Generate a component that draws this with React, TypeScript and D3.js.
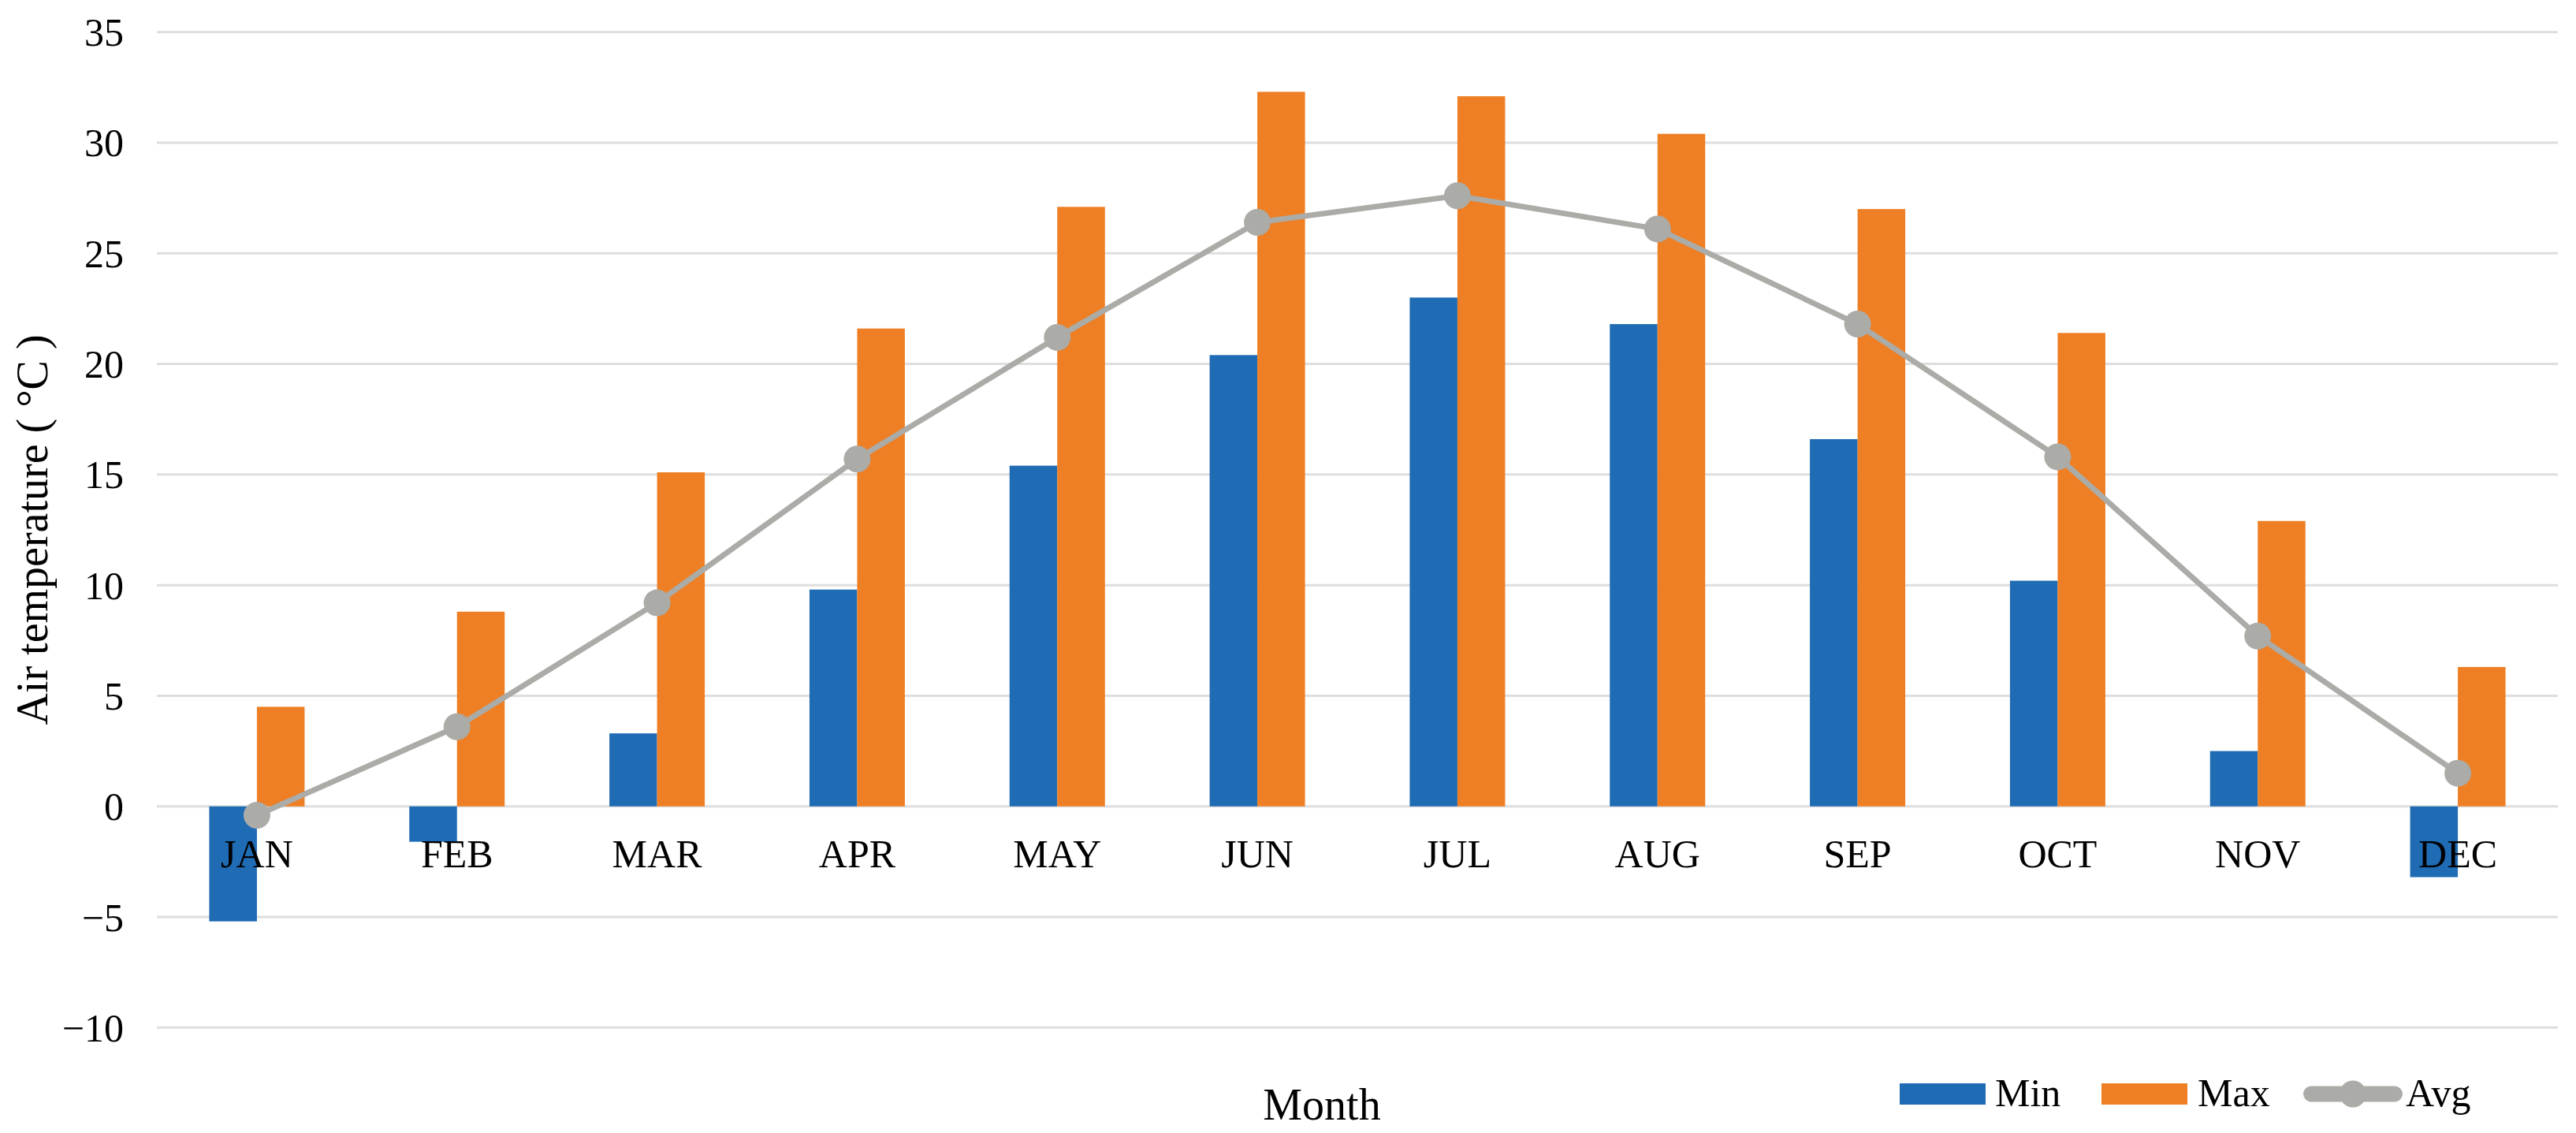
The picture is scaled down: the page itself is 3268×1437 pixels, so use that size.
import React from "react";
import * as d3 from "d3";

const months = ["JAN", "FEB", "MAR", "APR", "MAY", "JUN", "JUL", "AUG", "SEP", "OCT", "NOV", "DEC"];
const minTemp = [-5.2, -1.6, 3.3, 9.8, 15.4, 20.4, 23.0, 21.8, 16.6, 10.2, 2.5, -3.2];
const maxTemp = [4.5, 8.8, 15.1, 21.6, 27.1, 32.3, 32.1, 30.4, 27.0, 21.4, 12.9, 6.3];
const avgTemp = [-0.4, 3.6, 9.2, 15.7, 21.2, 26.4, 27.6, 26.1, 21.8, 15.8, 7.7, 1.5];
const yTicks = [-10, -5, 0, 5, 10, 15, 20, 25, 30, 35];
const seriesNames = ["Min", "Max", "Avg"];

const W = 3268;
const H = 1437;
const left = 199;
const right = 3245;
const top = 40.7;
const bottom = 1303.3;

const BLUE = "#1F6BB4";
const ORANGE = "#EE7F24";
const GRAY = "#ABABA7";
const GRID = "#DEDEDE";
const FONT = "'Liberation Serif', 'Times New Roman', serif";

export default function App() {
  const x = d3.scaleBand<string>().domain(months).range([left, right]).padding(0);
  const y = d3.scaleLinear().domain([-10, 35]).range([bottom, top]);
  const groupW = 121;
  const inner = d3.scaleBand<string>().domain(["Min", "Max"]).range([-groupW / 2, groupW / 2]).padding(0);
  const cx = (m: string) => (x(m) as number) + x.bandwidth() / 2;

  const line = d3
    .line<number>()
    .x((_, i) => cx(months[i]))
    .y((d) => y(d));

  const fmt = (v: number) => (v < 0 ? "\u2212" + Math.abs(v) : String(v));

  const barRect = (m: string, v: number, s: string, color: string) => {
    const y0 = y(0);
    const yv = y(v);
    return (
      <rect
        key={m + s}
        x={cx(m) + (inner(s) as number)}
        y={Math.min(y0, yv)}
        width={inner.bandwidth()}
        height={Math.abs(yv - y0)}
        fill={color}
      />
    );
  };

  return (
    <svg
      width={W}
      height={H}
      viewBox={`0 0 ${W} ${H}`}
      style={{ position: "absolute", left: 0, top: 0, background: "#fff" }}
      fontFamily={FONT}
    >
      <rect x={0} y={0} width={W} height={H} fill="#fff" />
      {/* gridlines */}
      {yTicks.map((t) => (
        <line key={"g" + t} x1={left} x2={right} y1={y(t)} y2={y(t)} stroke={GRID} strokeWidth={3} />
      ))}
      {/* y tick labels */}
      {yTicks.map((t) => (
        <text key={"t" + t} x={157} y={y(t)} dy="0.35em" textAnchor="end" fontSize={50} fill="#000">
          {fmt(t)}
        </text>
      ))}
      {/* bars */}
      {months.map((m, i) => barRect(m, minTemp[i], "Min", BLUE))}
      {months.map((m, i) => barRect(m, maxTemp[i], "Max", ORANGE))}
      {/* avg line */}
      <path d={line(avgTemp) as string} fill="none" stroke={GRAY} strokeWidth={7} strokeLinejoin="round" />
      {avgTemp.map((v, i) => (
        <circle key={"c" + i} cx={cx(months[i])} cy={y(v)} r={17} fill={GRAY} />
      ))}
      {/* month labels */}
      {months.map((m) => (
        <text key={"m" + m} x={cx(m)} y={1100} textAnchor="middle" fontSize={50} fill="#000">
          {m}
        </text>
      ))}
      {/* axis titles */}
      <text x={1677} y={1420} textAnchor="middle" fontSize={56} fill="#000">
        Month
      </text>
      <text
        transform={`translate(60, ${(top + bottom) / 2}) rotate(-90)`}
        textAnchor="middle"
        fontSize={56}
        fill="#000"
      >
        Air temperature ( °C )
      </text>
      {/* legend */}
      <g>
        <rect x={2410} y={1374} width={109} height={27} fill={BLUE} />
        <text x={2531} y={1403} fontSize={50} fill="#000">
          {seriesNames[0]}
        </text>
        <rect x={2666} y={1374} width={109} height={27} fill={ORANGE} />
        <text x={2788} y={1403} fontSize={50} fill="#000">
          {seriesNames[1]}
        </text>
        <line x1={2932} x2={3038} y1={1387.5} y2={1387.5} stroke={GRAY} strokeWidth={20} strokeLinecap="round" />
        <circle cx={2985} cy={1387.5} r={17} fill={GRAY} />
        <text x={3052} y={1403} fontSize={50} fill="#000">
          {seriesNames[2]}
        </text>
      </g>
    </svg>
  );
}
